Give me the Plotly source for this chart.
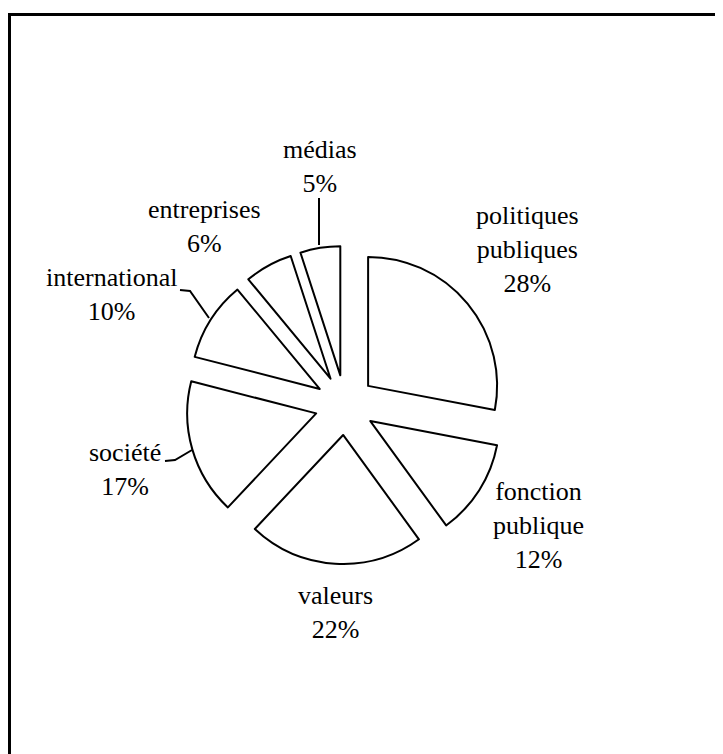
import plotly.graph_objects as go

W, H = 723, 754
OFF = 8  # page body margin compensation

# data
categories = ["politiques<br>publiques", "fonction<br>publique", "valeurs", "société",
              "international", "entreprises", "médias"]
values = [28, 12, 22, 17, 10, 6, 5]

def px(x):
    return (x - OFF) / W

def py(y):
    return 1 - (y - OFF) / H

# pie geometry (pixels, as seen in the window)
cx, cy, r, pull_px = 345, 405, 129, 30
pull = pull_px / r
half = r * (1 + pull)

fig = go.Figure(go.Pie(
    values=values,
    labels=categories,
    sort=False,
    direction="clockwise",
    rotation=0,
    pull=[pull] * len(values),
    marker=dict(colors=["white"] * len(values), line=dict(color="black", width=2)),
    textinfo="none",
    hoverinfo="skip",
    showlegend=False,
    domain=dict(x=[px(cx - half), px(cx + half)], y=[py(cy + half), py(cy - half)]),
))

# label positions (pixel centers)
label_pos = [(527, 249), (538, 525), (335, 612), (125, 469), (112, 294), (205, 226), (320, 166)]

annotations = []
for cat, v, (lx, ly) in zip(categories, values, label_pos):
    annotations.append(dict(
        x=px(lx), y=py(ly), xref="paper", yref="paper",
        text=f"{cat}<br>{v}%", showarrow=False,
        xanchor="center", yanchor="middle",
        font=dict(family="Liberation Serif", size=26, color="black"),
    ))

shapes = [
    # frame
    dict(type="rect", xref="paper", yref="paper",
         x0=px(9.5), x1=px(760), y0=py(14.5), y1=py(790),
         line=dict(color="black", width=3), fillcolor="rgba(0,0,0,0)"),
]
# leader lines
leaders = [
    [(319, 198), (319, 245)],
    [(180, 290), (190, 291), (209, 318)],
    [(165, 461), (175, 460), (192, 450)],
]
for pts in leaders:
    path = "M " + " L ".join(f"{px(x)},{py(y)}" for x, y in pts)
    shapes.append(dict(type="path", xref="paper", yref="paper", path=path,
                       line=dict(color="black", width=2)))

fig.update_layout(
    width=W, height=H,
    margin=dict(l=0, r=0, t=0, b=0),
    paper_bgcolor="white", plot_bgcolor="white",
    annotations=annotations, shapes=shapes,
)

fig.write_html("out.html")
